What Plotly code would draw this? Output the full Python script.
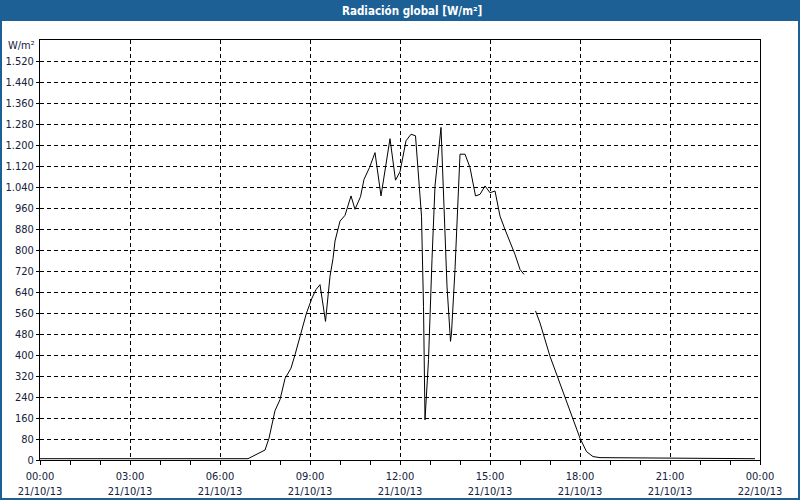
import plotly.graph_objects as go

day = "2013-10-21 "
times = ["00:00","06:56","07:30","07:38","07:50","08:00","08:10","08:22","08:30","08:53",
         "09:04","09:12","09:20","09:31","09:40","09:46","09:50","10:00","10:10","10:22",
         "10:30","10:41","10:48","10:59","11:10","11:22","11:40","11:51","12:00","12:12",
         "12:22","12:31","12:43","12:47","12:50","12:53","12:57","13:04","13:10","13:22",
         "13:27","13:34","13:41","13:43","13:50","13:56","14:00","14:10","14:20","14:31",
         "14:40","14:50","15:00","15:10","15:20","15:30","15:43","15:50","16:00","16:08",
         "16:20","16:31","16:40","17:00","17:30","18:00","18:13","18:26","18:40","23:50"]
values = [5,5,38,83,188,230,310,350,401,560,
          617,649,668,528,700,767,834,910,932,1006,
          955,1003,1069,1114,1171,1006,1224,1066,1098,1216,
          1241,1235,929,585,153,242,382,764,1044,1267,
          980,662,452,484,726,1018,1165,1165,1114,1006,
          1012,1044,1018,1025,929,878,815,783,726,707,
          None,568,522,395,242,83,32,13,9,5]

y_ticks = list(range(0, 1521, 80))
y_labels = ["{:,}".format(v).replace(",", ".") for v in y_ticks]
x_ticks = ["2013-10-21 00:00","2013-10-21 03:00","2013-10-21 06:00","2013-10-21 09:00",
           "2013-10-21 12:00","2013-10-21 15:00","2013-10-21 18:00","2013-10-21 21:00",
           "2013-10-22 00:00"]
x_labels = ["00:00<br>21/10/13","03:00<br>21/10/13","06:00<br>21/10/13","09:00<br>21/10/13",
            "12:00<br>21/10/13","15:00<br>21/10/13","18:00<br>21/10/13","21:00<br>21/10/13",
            "00:00<br>22/10/13"]

BLUE = "#1d6096"
TXT = "#14213d"
FONT = "Tahoma, DejaVu Sans Condensed, Liberation Sans, sans-serif"

fig = go.Figure()
fig.add_trace(go.Scatter(x=[day + t for t in times], y=values, mode="lines",
                         line=dict(color="black", width=1), connectgaps=False,
                         hoverinfo="skip"))

W, H = 800, 500
L, R, T, B = 40, 40, 40, 40
pw, ph = W - L - R, H - T - B

def px(x):
    return (x - L) / pw

def py(y):
    return (H - B - y) / ph

fig.update_layout(
    width=W, height=H,
    margin=dict(l=L, r=R, t=T, b=B, autoexpand=False),
    paper_bgcolor="white", plot_bgcolor="white",
    showlegend=False,
    font=dict(family=FONT, size=11, color=TXT),
    xaxis=dict(type="date", range=["2013-10-21 00:00", "2013-10-22 00:00"],
               automargin=False, ticklabelstandoff=2,
               tickmode="array", tickvals=x_ticks, ticktext=x_labels,
               ticks="outside", ticklen=4, tickcolor="black",
               showgrid=True, gridcolor="black", gridwidth=1, griddash="4px,3px",
               showline=True, linecolor="black", linewidth=1, mirror=True,
               zeroline=False,
               minor=dict(ticks="outside", ticklen=4, tickcolor="black",
                          dtick=3600000, tick0="2013-10-21 00:00", showgrid=False),
               tickfont=dict(family=FONT, size=11, color=TXT)),
    yaxis=dict(range=[0, 1600], tickmode="array", tickvals=y_ticks, ticktext=y_labels,
               automargin=False,
               ticks="outside", ticklen=3, tickcolor="black",
               showgrid=True, gridcolor="black", gridwidth=1, griddash="4px,3px",
               showline=True, linecolor="black", linewidth=1, mirror=True,
               zeroline=False,
               tickfont=dict(family=FONT, size=11, color=TXT)),
    shapes=[
        dict(type="rect", xref="paper", yref="paper",
             x0=px(0), x1=px(W), y0=py(21), y1=py(0),
             fillcolor=BLUE, line=dict(width=0), layer="above"),
        dict(type="rect", xref="paper", yref="paper",
             x0=px(1), x1=px(W - 1), y0=py(H - 1), y1=py(1),
             fillcolor="rgba(0,0,0,0)", line=dict(color=BLUE, width=2), layer="above"),
    ],
    annotations=[
        dict(text="<b>Radiación global [W/m²]</b>", xref="paper", yref="paper",
             x=px(412), y=py(10.5), xanchor="center", yanchor="middle", showarrow=False,
             font=dict(family=FONT, size=11.5, color="white")),
        dict(text="W/m²", xref="paper", yref="paper",
             x=px(37), y=py(46), xanchor="right", yanchor="middle", showarrow=False,
             font=dict(family=FONT, size=11, color=TXT)),
    ],
)

fig.write_html("out.html")
